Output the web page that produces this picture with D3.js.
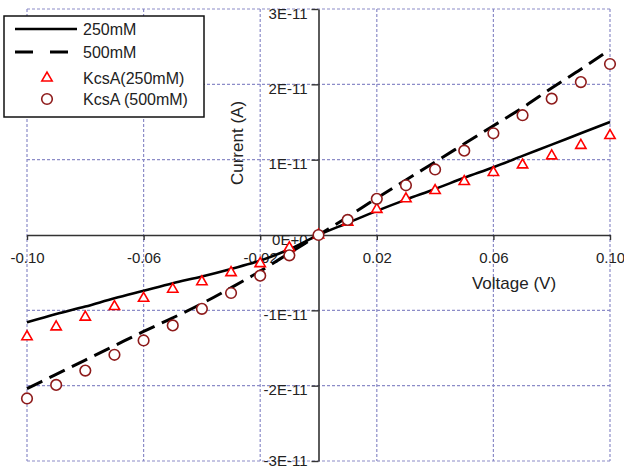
<!DOCTYPE html>
<html>
<head>
<meta charset="utf-8">
<script src="https://cdn.jsdelivr.net/npm/d3@7"></script>
<style>
  body { margin: 0; background: #fff; }
  svg { display: block; font-family: Arial, "Liberation Sans", sans-serif; }
</style>
</head>
<body>
<div id="chart"></div>
<script>
// voltages (V) and currents in units of 1E-11 A
const voltage = [-0.10, -0.09, -0.08, -0.07, -0.06, -0.05, -0.04, -0.03, -0.02, -0.01, 0,
                 0.01, 0.02, 0.03, 0.04, 0.05, 0.06, 0.07, 0.08, 0.09, 0.10]
const fit250 = [-1.16, -1.05, -0.95, -0.84, -0.74, -0.64, -0.55, -0.45, -0.34, -0.19, 0,
                0.16, 0.32, 0.47, 0.61, 0.76, 0.90, 1.05, 1.20, 1.35, 1.50]
const fit500 = [-2.04, -1.85, -1.66, -1.47, -1.28, -1.10, -0.91, -0.70, -0.48, -0.24, 0,
                0.24, 0.49, 0.73, 0.97, 1.21, 1.45, 1.69, 1.95, 2.20, 2.46]
const kcsa250 = [-1.35, -1.22, -1.09, -0.95, -0.84, -0.72, -0.62, -0.50, -0.38, -0.17, 0,
                 0.17, 0.34, 0.48, 0.59, 0.71, 0.83, 0.93, 1.05, 1.19, 1.32]
const kcsa500 = [-2.17, -1.99, -1.80, -1.59, -1.40, -1.20, -0.98, -0.77, -0.54, -0.27, 0,
                 0.20, 0.48, 0.66, 0.87, 1.12, 1.35, 1.59, 1.81, 2.03, 2.27]

const xTicks = [-0.10, -0.06, -0.02, 0.02, 0.06, 0.10]
const yTicks = [-3, -2, -1, 0, 1, 2, 3]
const yTickLabels = ["-3E-11", "-2E-11", "-1E-11", "0E+0", "1E-11", "2E-11", "3E-11"]

const width = 624, height = 468

const svg = d3.select("#chart").append("svg")
    .attr("width", width)
    .attr("height", height)

const x = d3.scaleLinear().domain([-0.1, 0.1]).range([27, 610])
const y = d3.scaleLinear().domain([-3, 3]).range([461, 9])

// dotted grid
const grid = svg.append("g")
    .attr("stroke", "#8c8cc8")
    .attr("stroke-width", 1.2)
    .attr("stroke-dasharray", "3,2")
grid.selectAll(".vg").data(xTicks).join("line")
    .attr("class", "vg")
    .attr("x1", d => x(d)).attr("x2", d => x(d))
    .attr("y1", y(3)).attr("y2", y(-3))
grid.selectAll(".hg").data(yTicks.filter(d => d !== 0)).join("line")
    .attr("class", "hg")
    .attr("x1", x(-0.1)).attr("x2", x(0.1))
    .attr("y1", d => y(d)).attr("y2", d => y(d))

// axes through the origin
const xAxis = svg.append("g")
    .attr("transform", `translate(0,${y(0)})`)
    .call(d3.axisBottom(x).tickValues(xTicks).tickFormat(d => d.toFixed(2))
        .tickSize(5).tickSizeOuter(0).tickPadding(12))
xAxis.select(".domain").attr("stroke", "#333").attr("stroke-width", 1.6)
xAxis.selectAll(".tick line").attr("stroke", "#333").attr("stroke-width", 1.4)
xAxis.selectAll(".tick text").attr("font-size", 15).attr("fill", "#222")
    .attr("font-family", "Arial, 'Liberation Sans', sans-serif")

const yAxis = svg.append("g")
    .attr("transform", `translate(${x(0)},0)`)
    .call(d3.axisLeft(y).tickValues(yTicks).tickFormat((d, i) => yTickLabels[i])
        .tickSize(7).tickSizeOuter(0).tickPadding(4))
yAxis.select(".domain").attr("stroke", "#333").attr("stroke-width", 1.6)
yAxis.selectAll(".tick line").attr("stroke", "#333").attr("stroke-width", 1.4)
yAxis.selectAll(".tick text").attr("font-size", 15).attr("fill", "#222")
    .attr("dy", d => d === -3 ? "0.27em" : "0.6em")
    .attr("font-family", "Arial, 'Liberation Sans', sans-serif")

svg.append("text")
    .attr("x", 514).attr("y", 289)
    .attr("text-anchor", "middle")
    .attr("font-size", 17).attr("fill", "#222")
    .text("Voltage (V)")

svg.append("text")
    .attr("transform", `translate(243,143) rotate(-90)`)
    .attr("text-anchor", "middle")
    .attr("font-size", 17).attr("fill", "#222")
    .text("Current (A)")

// fitted curves
const line = d3.line()
    .x((d, i) => x(voltage[i]))
    .y(d => y(d))
    .curve(d3.curveMonotoneX)

svg.append("path")
    .datum(fit250)
    .attr("d", line)
    .attr("fill", "none")
    .attr("stroke", "#000")
    .attr("stroke-width", 2.6)

svg.append("path")
    .datum(fit500)
    .attr("d", line)
    .attr("fill", "none")
    .attr("stroke", "#000")
    .attr("stroke-width", 3)
    .attr("stroke-dasharray", "17,8")

// measured points
const tri = d3.symbol(d3.symbolTriangle, 46)
svg.selectAll(".tri").data(kcsa250).join("path")
    .attr("class", "tri")
    .attr("d", tri)
    .attr("transform", (d, i) => `translate(${x(voltage[i])},${y(d)})`)
    .attr("fill", "#fff")
    .attr("stroke", "#ff0000")
    .attr("stroke-width", 1.6)

svg.selectAll(".circ").data(kcsa500).join("circle")
    .attr("class", "circ")
    .attr("cx", (d, i) => x(voltage[i]))
    .attr("cy", d => y(d))
    .attr("r", 5.3)
    .attr("fill", "#fff")
    .attr("stroke", "#8e1b1b")
    .attr("stroke-width", 1.6)

// legend
const legend = svg.append("g")
legend.append("rect")
    .attr("x", 4).attr("y", 16)
    .attr("width", 200).attr("height", 101)
    .attr("fill", "#fff")
    .attr("stroke", "#111")
    .attr("stroke-width", 1.5)

const legendItems = ["250mM", "500mM", "KcsA(250mM)", "KcsA (500mM)"]
const legendY = [29, 52, 78, 99]

legend.append("line")
    .attr("x1", 15).attr("x2", 77).attr("y1", legendY[0]).attr("y2", legendY[0])
    .attr("stroke", "#000").attr("stroke-width", 2.6)
legend.append("line")
    .attr("x1", 15).attr("x2", 70).attr("y1", legendY[1]).attr("y2", legendY[1])
    .attr("stroke", "#000").attr("stroke-width", 3)
    .attr("stroke-dasharray", "18,17")
legend.append("path")
    .attr("d", tri)
    .attr("transform", `translate(47,${legendY[2]})`)
    .attr("fill", "#fff").attr("stroke", "#ff0000").attr("stroke-width", 1.6)
legend.append("circle")
    .attr("cx", 47).attr("cy", legendY[3]).attr("r", 5.3)
    .attr("fill", "#fff").attr("stroke", "#8e1b1b").attr("stroke-width", 1.6)

legend.selectAll(".ltxt").data(legendItems).join("text")
    .attr("class", "ltxt")
    .attr("x", 83)
    .attr("y", (d, i) => legendY[i])
    .attr("dy", "0.36em")
    .attr("font-size", 16)
    .attr("fill", "#222")
    .text(d => d)
</script>
</body>
</html>
